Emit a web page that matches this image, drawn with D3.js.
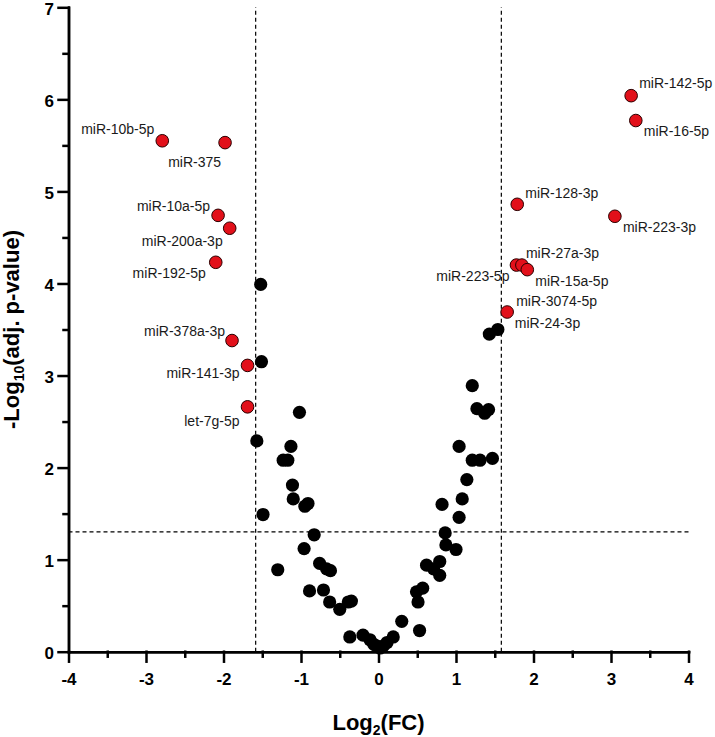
<!DOCTYPE html>
<html>
<head>
<meta charset="utf-8">
<script src="https://cdn.jsdelivr.net/npm/d3@7"></script>
<style>
  body { margin: 0; background: #fff; }
  #chart { width: 715px; height: 737px; }
  svg { font-family: "Liberation Sans", Arial, sans-serif; }
</style>
</head>
<body>
<div id="chart"></div>
<script>
// significant miRNAs (red)
const sigNames = ["miR-142-5p", "miR-16-5p", "miR-128-3p", "miR-223-3p", "miR-223-5p", "miR-27a-3p",
  "miR-15a-5p", "miR-3074-5p", "miR-10b-5p", "miR-375", "miR-10a-5p", "miR-200a-3p",
  "miR-192-5p", "miR-378a-3p", "miR-141-3p", "let-7g-5p"];
const sigFC = [3.26, 3.32, 1.79, 3.05, 1.78, 1.85, 1.92, 1.66, -2.79, -1.98, -2.07, -1.92, -2.10, -1.89, -1.69, -1.69];
const sigP = [6.04, 5.77, 4.86, 4.73, 4.20, 4.20, 4.15, 3.69, 5.55, 5.53, 4.74, 4.60, 4.23, 3.38, 3.11, 2.66];

// the rest (black)
const nsFC = [-1.52, -1.51, -1.02, -1.57, -1.13, -1.23, -1.17, -1.11, -1.10, -0.95, -0.91, -1.49, -0.83, -0.96,
  -1.30, -0.76, -0.67, -0.62, -0.89, -0.71, -0.63, -0.50, -0.39, -0.35, -0.37, -0.20, -0.11, -0.06, -0.02,
  0.02, 0.06, 0.11, 0.19, 0.30, 0.53, 0.51, 0.49, 0.57, 0.62, 0.71, 0.79, 0.79, 0.86, 0.87, 1.00, 1.04,
  0.82, 1.08, 1.14, 1.04, 1.21, 1.31, 1.47, 1.21, 1.27, 1.37, 1.42, 1.43, 1.54];
const nsP = [3.99, 3.15, 2.60, 2.29, 2.23, 2.08, 2.08, 1.81, 1.66, 1.58, 1.61, 1.49, 1.27, 1.12,
  0.89, 0.96, 0.90, 0.88, 0.66, 0.67, 0.54, 0.46, 0.54, 0.55, 0.16, 0.18, 0.13, 0.08, 0.06,
  0.04, 0.06, 0.10, 0.16, 0.33, 0.23, 0.54, 0.65, 0.69, 0.94, 0.90, 0.83, 0.98, 1.29, 1.16, 1.11, 1.46,
  1.60, 1.66, 1.87, 2.23, 2.08, 2.08, 2.10, 2.89, 2.64, 2.59, 2.63, 3.45, 3.50];
// black point that still carries a label
const nsLabel = { name: "miR-24-3p", index: 58 };

// cut-offs
const fcCut = Math.log2(3);
const pCut = -Math.log10(0.05);

const xTicks = [-4, -3, -2, -1, 0, 1, 2, 3, 4];
const yTicks = [0, 1, 2, 3, 4, 5, 6, 7];

// label placement, px offset from the dot: [dx, dy, anchor]
const labelPos = {
  "miR-142-5p": [8, -13, "start"], "miR-16-5p": [8, 11, "start"], "miR-128-3p": [8, -11, "start"],
  "miR-223-3p": [8, 11, "start"], "miR-223-5p": [-7, 11, "end"], "miR-27a-3p": [4, -12, "start"],
  "miR-15a-5p": [8, 11, "start"], "miR-3074-5p": [9, -11, "start"], "miR-24-3p": [17, -6, "start"],
  "miR-10b-5p": [-8, -12, "end"], "miR-375": [-4, 19, "end"], "miR-10a-5p": [-8, -9, "end"],
  "miR-200a-3p": [-7, 13, "end"], "miR-192-5p": [-10, 11, "end"], "miR-378a-3p": [-7, -9, "end"],
  "miR-141-3p": [-8, 8, "end"], "let-7g-5p": [-8, 14, "end"]
};

class VolcanoChart {
  constructor(id) {
    this.div = id;
    this.width = 715;
    this.height = 737;
    this.margin = { left: 68.5, right: 26.5, top: 7.3, bottom: 85.3 };
    this.innerW = this.width - this.margin.left - this.margin.right;
    this.innerH = this.height - this.margin.top - this.margin.bottom;
  }

  add_svg() {
    const div = d3.select(`#${this.div}`);
    div.selectAll("*").remove();
    this.svg = div.append("svg").attr("width", this.width).attr("height", this.height);
    this.ChartArea = this.svg.append("g")
      .attr("transform", `translate(${this.margin.left},${this.margin.top})`);
  }

  add_scale() {
    this.x = d3.scaleLinear().domain([-4, 4]).range([0, this.innerW]);
    this.y = d3.scaleLinear().domain([0, 7]).range([this.innerH, 0]);
  }

  add_cutoffs() {
    const g = this.ChartArea.append("g")
      .attr("stroke", "#000").attr("stroke-width", 1.2).attr("stroke-dasharray", "4,3");
    [-fcCut, fcCut].forEach((v) => {
      g.append("line")
        .attr("x1", this.x(v)).attr("x2", this.x(v))
        .attr("y1", this.y(0)).attr("y2", this.y(7));
    });
    g.append("line")
      .attr("x1", this.x(-4)).attr("x2", this.x(4))
      .attr("y1", this.y(pCut)).attr("y2", this.y(pCut));
  }

  add_axis() {
    const minorX = d3.range(-3.5, 4, 1);
    const minorY = d3.range(0.5, 7, 1);
    const fmt = (d) => String(d); // plain hyphen, not the unicode minus
    const AxisX = this.ChartArea.append("g").attr("transform", `translate(0,${this.innerH})`);
    AxisX.call(d3.axisBottom(this.x).tickValues(minorX).tickSize(5).tickSizeOuter(0).tickFormat(""));
    AxisX.append("g").call(d3.axisBottom(this.x).tickValues(xTicks).tickSize(10).tickSizeOuter(0)
      .tickPadding(11).tickFormat(fmt));
    const AxisY = this.ChartArea.append("g");
    AxisY.call(d3.axisLeft(this.y).tickValues(minorY).tickSize(5).tickSizeOuter(0).tickFormat(""));
    AxisY.append("g").call(d3.axisLeft(this.y).tickValues(yTicks).tickSize(10).tickSizeOuter(0)
      .tickPadding(4.5).tickFormat(fmt));
    AxisY.selectAll(".tick text").attr("dy", "0.4em");

    this.ChartArea.selectAll(".domain, .tick line")
      .attr("stroke", "#000").attr("stroke-width", 2.5).attr("stroke-linecap", "square");
    this.ChartArea.selectAll(".tick text")
      .attr("fill", "#000").attr("font-size", 17).attr("font-weight", "bold")
      .attr("font-family", "'Liberation Sans', Arial, sans-serif");
  }

  add_label() {
    const xl = this.svg.append("text")
      .attr("x", this.margin.left + this.x(0)).attr("y", 730)
      .attr("text-anchor", "middle").attr("font-size", 22).attr("font-weight", "bold");
    xl.append("tspan").text("Log");
    xl.append("tspan").text("2").attr("font-size", 14).attr("dy", 5);
    xl.append("tspan").text("(FC)").attr("dy", -5);

    const yl = this.svg.append("text")
      .attr("transform", `translate(19,${this.margin.top + this.y(3.5)}) rotate(-90)`)
      .attr("text-anchor", "middle").attr("font-size", 22).attr("font-weight", "bold");
    yl.append("tspan").text("-Log");
    yl.append("tspan").text("10").attr("font-size", 14).attr("dy", 5);
    yl.append("tspan").text("(adj. p-value)").attr("dy", -5);
  }

  draw_chart() {
    const ns = nsFC.map((fc, i) => ({ fc, p: nsP[i] }));
    const sig = sigNames.map((name, i) => ({ name, fc: sigFC[i], p: sigP[i] }));

    this.ChartArea.append("g").selectAll("circle").data(ns).join("circle")
      .attr("cx", (d) => this.x(d.fc)).attr("cy", (d) => this.y(d.p))
      .attr("r", 6.6).attr("fill", "#000");

    this.ChartArea.append("g").selectAll("circle").data(sig).join("circle")
      .attr("cx", (d) => this.x(d.fc)).attr("cy", (d) => this.y(d.p))
      .attr("r", 6.3).attr("fill", "#e2101a").attr("stroke", "#2a0000").attr("stroke-width", 1);

    const labelled = sig.concat([{ name: nsLabel.name, ...ns[nsLabel.index] }]);
    this.ChartArea.append("g").selectAll("text").data(labelled).join("text")
      .attr("x", (d) => this.x(d.fc) + labelPos[d.name][0])
      .attr("y", (d) => this.y(d.p) + labelPos[d.name][1])
      .attr("dy", "0.35em")
      .attr("text-anchor", (d) => labelPos[d.name][2])
      .attr("font-size", 14).attr("fill", "#1a1a1a")
      .text((d) => d.name);
  }

  render() {
    this.add_svg();
    this.add_scale();
    this.add_cutoffs();
    this.add_axis();
    this.draw_chart();
    this.add_label();
  }
}

new VolcanoChart("chart").render();
</script>
</body>
</html>
